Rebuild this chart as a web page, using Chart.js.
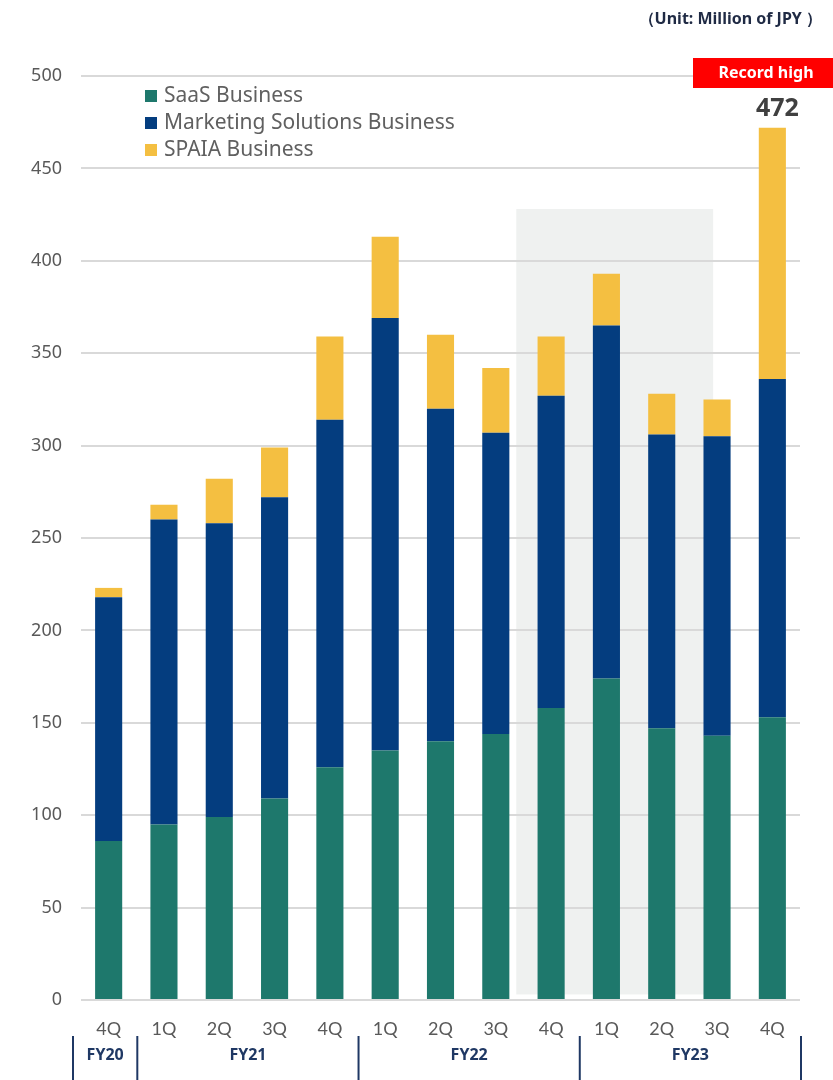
<!doctype html>
<html lang="en">
  <head>
    <meta charset="UTF-8" />
    <title>Net sales by segment</title>
    <script src="https://cdn.jsdelivr.net/npm/chart.js"></script>
    <style>
      html, body { margin: 0; padding: 0; background: #fff; }
      #wrap { width: 833px; height: 1080px; position: relative; }
    </style>
  </head>
  <body>
    <div id="wrap"><canvas id="salesChart" width="833" height="1080"></canvas></div>

    <script>
      // quarterly sales, million JPY
      const quarters = ["4Q", "1Q", "2Q", "3Q", "4Q", "1Q", "2Q", "3Q", "4Q", "1Q", "2Q", "3Q", "4Q"];
      const saas = [86, 95, 99, 109, 126, 135, 140, 144, 158, 174, 147, 143, 153];
      const marketing = [132, 165, 159, 163, 188, 234, 180, 163, 169, 191, 159, 162, 183];
      const spaia = [5, 8, 24, 27, 45, 44, 40, 35, 32, 28, 22, 20, 136];
      const fiscalYears = ["FY20", "FY21", "FY22", "FY23"];
      const fyQuarterCount = [1, 4, 4, 4];
      const yTicks = [0, 50, 100, 150, 200, 250, 300, 350, 400, 450, 500];
      const recordIndex = 12;
      const recordTotal = 472;
      // shaded band: category range and top value
      const bandFrom = 7.37;
      const bandTo = 10.93;
      const bandTop = 428;

      const gray = "#595959";
      const navy = "#1f3864";

      const bandPlugin = {
        id: "band",
        beforeDraw(chart) {
          const { ctx, scales: { x, y } } = chart;
          ctx.save();
          ctx.fillStyle = "#eff1f0";
          const x0 = x.getPixelForValue(bandFrom);
          const x1 = x.getPixelForValue(bandTo);
          const y0 = y.getPixelForValue(bandTop);
          const y1 = y.getPixelForValue(3);
          ctx.fillRect(x0, y0, x1 - x0, y1 - y0);
          ctx.restore();
        },
      };

      const decorPlugin = {
        id: "decor",
        afterDraw(chart) {
          const { ctx, scales: { x, y } } = chart;
          ctx.save();

          // unit note
          ctx.font = "bold 16px 'Noto Sans'";
          ctx.fillStyle = "#1f2a44";
          ctx.textAlign = "right";
          ctx.textBaseline = "middle";
          ctx.fillText("（Unit: Million of JPY ）", 822, 19);

          // legend
          ctx.font = "21px 'Noto Sans'";
          ctx.textAlign = "left";
          chart.data.datasets.forEach((ds, i) => {
            const ly = 96 + i * 27;
            ctx.fillStyle = ds.backgroundColor;
            ctx.fillRect(145, ly - 6, 12, 12);
            ctx.fillStyle = "#606060";
            ctx.fillText(ds.label, 164, ly);
          });

          // record high badge and total
          const rx = x.getPixelForValue(recordIndex);
          const ry = y.getPixelForValue(recordTotal);
          ctx.fillStyle = "#ff0000";
          ctx.fillRect(693, 58, 140, 30);
          ctx.fillStyle = "#fff";
          ctx.font = "bold 16px 'Noto Sans'";
          ctx.textAlign = "center";
          ctx.fillText("Record high", 766, 73);
          ctx.fillStyle = "#404040";
          ctx.font = "bold 25px 'Noto Sans'";
          ctx.textBaseline = "bottom";
          ctx.fillText(String(recordTotal), rx + 5, ry - 6);

          // fiscal year groups under the quarter labels
          const half = (x.getPixelForValue(1) - x.getPixelForValue(0)) / 2;
          let start = 0;
          const edges = [x.getPixelForValue(0) - half - 8];
          fyQuarterCount.forEach((n) => {
            start += n;
            edges.push(x.getPixelForValue(start - 1) + half + 1);
          });
          ctx.strokeStyle = navy;
          ctx.lineWidth = 2;
          edges.forEach((ex) => {
            ctx.beginPath();
            ctx.moveTo(ex, 1036);
            ctx.lineTo(ex, 1080);
            ctx.stroke();
          });
          ctx.fillStyle = navy;
          ctx.font = "bold 16px 'Open Sans'";
          ctx.textBaseline = "middle";
          fiscalYears.forEach((fy, i) => {
            ctx.fillText(fy, (edges[i] + edges[i + 1]) / 2, 1055);
          });
          ctx.restore();
        },
      };

      new Chart(document.getElementById("salesChart"), {
        type: "bar",
        data: {
          labels: quarters,
          datasets: [
            { label: "SaaS Business", data: saas, backgroundColor: "#1e786c" },
            { label: "Marketing Solutions Business", data: marketing, backgroundColor: "#043d7f" },
            { label: "SPAIA Business", data: spaia, backgroundColor: "#f4bf41" },
          ],
        },
        options: {
          responsive: false,
          animation: false,
          layout: { padding: { top: 76, right: 33, left: 0, bottom: 0 } },
          datasets: {
            bar: { categoryPercentage: 1, barPercentage: 0.49, borderWidth: 0 },
          },
          plugins: {
            legend: { display: false },
            tooltip: { enabled: false },
          },
          scales: {
            x: {
              stacked: true,
              grid: { display: false },
              border: { display: false },
              ticks: {
                color: gray,
                font: { family: "Lato", size: 18 },
                padding: 10,
              },
              afterFit(scale) {
                scale.height = 80;
              },
            },
            y: {
              stacked: true,
              min: 0,
              max: 500,
              afterBuildTicks(scale) {
                scale.ticks = yTicks.map((v) => ({ value: v }));
              },
              grid: { color: "#d9d9d9", lineWidth: 2, drawTicks: false },
              border: { display: false },
              ticks: {
                color: gray,
                font: { family: "Noto Sans", size: 18 },
                padding: 19,
              },
              afterFit(scale) {
                scale.width = 81;
              },
            },
          },
        },
        plugins: [bandPlugin, decorPlugin],
      });
    </script>
  </body>
</html>
